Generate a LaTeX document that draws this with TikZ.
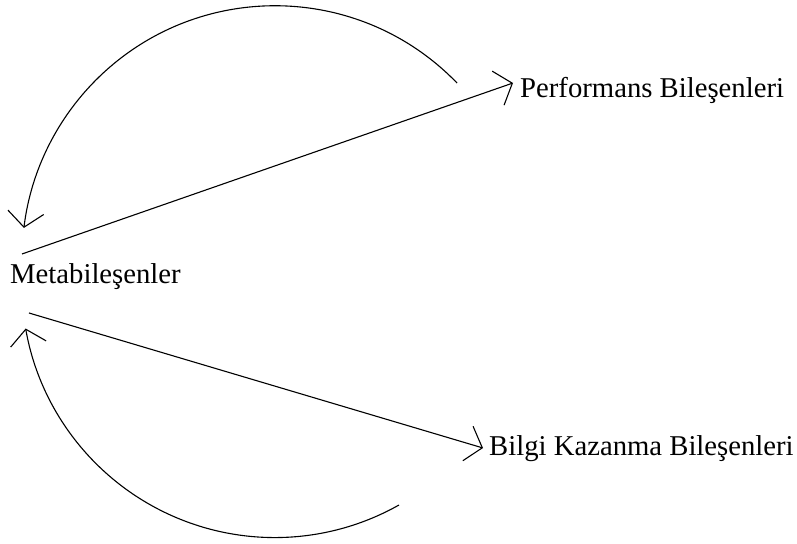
\documentclass[tikz,border=0pt]{standalone}
\usepackage{fontspec}
\setmainfont{Liberation Serif}
\usetikzlibrary{arrows.meta}
\begin{document}
\begin{tikzpicture}[x=1pt,y=1pt,
  label/.style={inner sep=0pt,anchor=base west,font=\fontsize{28.7}{34}\selectfont},
  link/.style={line width=1.1pt,-{Straight Barb[length=15pt,width=36pt,line width=1.1pt]}}]
  \useasboundingbox (0,0) rectangle (797,543);

  % the three components
  \node[label] (meta)  at (10,259)  {Metabileşenler};
  \node[label] (perf)  at (520,445) {Performans Bileşenleri};
  \node[label] (bilgi) at (489,87)  {Bilgi Kazanma Bileşenleri};

  % outgoing links
  \draw[link] ([shift={(12,30)}]meta.base west) -- ([shift={(-7,15)}]perf.base west);
  \draw[link] ([shift={(19,-29)}]meta.base west) -- ([shift={(-6,8)}]bilgi.base west);

  % feedback arcs back to the metacomponents
  \coordinate (topstart) at (457,460);
  \coordinate (botstart) at (399,38);
  \draw[link] (topstart) arc[start angle=44,end angle=173,radius=253];
  \draw[link] (botstart) arc[start angle=-60.6,end angle=-170,radius=253];
\end{tikzpicture}
\end{document}
